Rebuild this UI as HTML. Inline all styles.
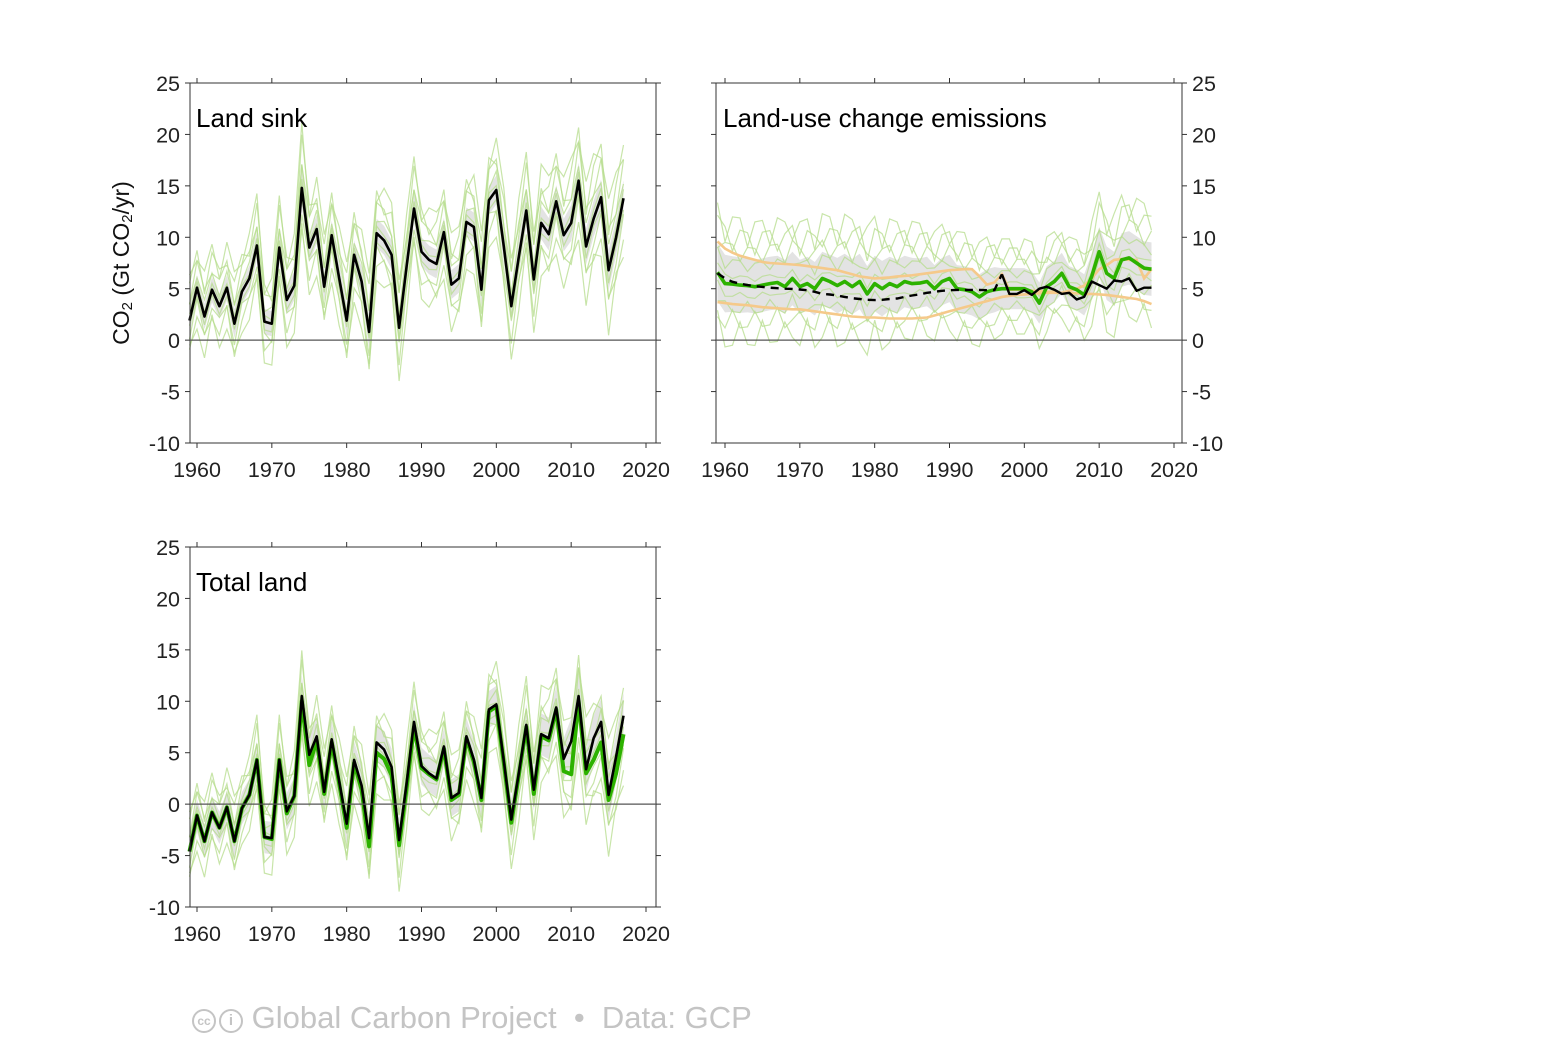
<!DOCTYPE html>
<html><head><meta charset="utf-8">
<style>
html,body{margin:0;padding:0;background:#fff;}
body{width:1563px;height:1042px;overflow:hidden;font-family:"Liberation Sans",Arial,sans-serif;}
svg text{font-family:"Liberation Sans",Arial,sans-serif;}
</style></head>
<body>
<svg id="chart" width="1563" height="1042"></svg>
<script>
const years = [];
for (let y = 1959; y <= 2017; y++) years.push(y);
const sinkValues = [1.9,5.1,2.3,4.9,3.3,5.1,1.6,4.7,6.0,9.2,1.8,1.6,9.0,3.9,5.3,14.8,9.0,10.8,5.2,10.2,6.0,1.9,8.3,5.7,0.8,10.4,9.7,8.3,1.2,7.1,12.8,8.6,7.8,7.4,10.5,5.4,6.0,11.5,11.0,4.9,13.6,14.6,9.1,3.3,8.1,12.6,5.9,11.4,10.3,13.5,10.2,11.4,15.5,9.1,11.8,13.9,6.8,10.0,13.8];
const sinkSpread = [3.5,3.5,3.5,3.5,3.5,3.5,4,3.5,3.5,4,3.5,3.5,4,4,4,5,4,4,4,4,4,4.5,4,4,4.5,4,4,4,4.5,4,4,4,4,4,4,4,4,4,4,4.5,4,4,4.5,4.5,4.5,4.5,4.5,4.5,4.5,4.5,4.5,5,5,5,5,5,5.5,5,5];
const totalValues = [-4.6,-1.1,-3.6,-0.8,-2.3,-0.3,-3.6,-0.4,0.9,4.3,-3.2,-3.3,4.3,-0.7,0.8,10.5,4.8,6.6,1.2,6.3,2.2,-1.9,4.3,1.8,-3.3,6.0,5.3,3.6,-3.5,1.9,8.0,3.7,3.0,2.5,5.6,0.6,1.1,6.6,4.3,0.6,9.2,9.7,4.2,-1.5,3.0,7.7,1.4,6.8,6.4,9.4,4.4,6.1,10.5,3.4,6.4,8.0,0.9,4.6,8.6];
const totalGreen = [-4.6,-1.1,-3.6,-0.8,-2.3,-0.3,-3.6,-0.4,0.9,4.3,-3.2,-3.4,4.3,-0.9,0.8,10.0,3.8,6.2,1.0,6.0,2.0,-2.3,4.0,1.4,-4.1,5.0,4.4,2.8,-4.0,1.5,7.5,3.5,2.9,2.4,5.4,0.4,0.9,6.4,4.1,0.4,9.0,9.5,4.0,-1.8,2.8,7.5,1.0,6.6,6.2,9.2,3.2,2.9,10.0,3.0,4.3,6.0,0.4,3.0,6.8];
const totalSpread = [3.5,3.5,3.5,3.5,3.5,3.5,4,3.5,3.5,4,3.5,3.5,4,4,4,4.5,4,4,4,4,4,4.5,4,4,4.5,4,4,4,4.5,4,4,4,4,4,4,4,4,4,4,4.5,4,4,4.5,4.5,4.5,4.5,4.5,4.5,4.5,4.5,4.5,5,5,5,5,5,5.5,5,5];
const lucYearsDashed = [];
for (let y = 1959; y <= 1997; y++) lucYearsDashed.push(y);
const lucDashed = [6.5,6.0,5.67,5.5,5.35,5.25,5.18,5.1,5.05,5.0,4.98,4.92,4.86,4.7,4.5,4.44,4.34,4.2,4.08,4.0,3.92,3.89,3.92,4.0,4.05,4.2,4.34,4.45,4.6,4.7,4.8,4.86,4.88,4.88,4.88,4.88,4.86,4.86,6.4];
const lucYearsSolid = [];
for (let y = 1997; y <= 2017; y++) lucYearsSolid.push(y);
const lucSolid = [6.4,4.5,4.5,4.86,4.4,5.0,5.2,4.9,4.5,4.6,3.95,4.2,5.7,5.35,5.0,5.8,5.7,6.0,4.8,5.1,5.1];
const lucGreen = [6.6,5.5,5.45,5.35,5.3,5.2,5.35,5.5,5.6,5.2,6.0,5.2,5.5,5.0,6.0,5.7,5.3,5.7,5.2,5.7,4.5,5.5,5.0,5.5,5.2,5.7,5.5,5.55,5.7,5.0,5.7,6.0,5.0,4.9,4.7,4.2,4.7,4.9,5.0,5.0,5.0,5.0,4.7,3.6,5.2,5.7,6.5,5.2,4.9,4.4,6.2,8.6,6.5,6.0,7.8,8.0,7.5,7.0,6.9];
const lucUpper = [9.6,8.9,8.5,8.2,8.0,7.8,7.6,7.5,7.45,7.4,7.35,7.3,7.2,7.1,7.0,6.9,6.8,6.6,6.4,6.2,6.1,6.0,6.05,6.1,6.2,6.25,6.3,6.4,6.5,6.6,6.7,6.8,6.85,6.9,6.9,6.2,5.4,5.6,6.4,4.9,4.9,4.9,4.8,4.8,4.7,4.7,4.6,4.8,5.0,5.3,6.0,6.9,7.3,7.8,7.9,7.8,7.8,6.0,6.9];
const lucLower = [3.7,3.6,3.5,3.45,3.4,3.3,3.2,3.15,3.1,3.05,3.0,3.0,2.9,2.8,2.7,2.6,2.5,2.4,2.3,2.25,2.2,2.2,2.15,2.1,2.1,2.1,2.1,2.15,2.2,2.4,2.6,2.8,3.0,3.2,3.4,3.6,3.8,4.0,4.2,4.3,4.4,4.45,4.5,4.55,4.6,4.6,4.6,4.6,4.55,4.5,4.5,4.45,4.4,4.3,4.2,4.1,4.0,3.8,3.5];
const lucSpread = [2.8,2.8,2.7,2.7,2.6,2.6,2.6,2.6,2.6,2.6,2.6,2.6,2.6,2.6,2.6,2.6,2.7,2.7,2.7,2.7,2.7,2.7,2.7,2.6,2.6,2.5,2.5,2.4,2.4,2.3,2.3,2.3,2.3,2.3,2.3,2.2,2.2,2.2,2.0,2.0,2.0,2.0,2.0,2.0,2.0,2.0,2.0,2.0,2.0,2.0,2.2,2.4,2.6,2.6,2.6,2.6,2.6,2.6,2.6];
const yTicks = [-10,-5,0,5,10,15,20,25];
const xTicks = [1960,1970,1980,1990,2000,2010,2020];

const NS = 'http://www.w3.org/2000/svg';
const svg = document.getElementById('chart');
function el(tag, attrs, parent) {
  const e = document.createElementNS(NS, tag);
  for (const k in attrs) e.setAttribute(k, attrs[k]);
  (parent || svg).appendChild(e);
  return e;
}
function makeAxes(left, top, right, bottom, x1960, x2020) {
  const xs = y => x1960 + (y - 1960) * (x2020 - x1960) / 60;
  const ys = v => bottom - (v + 10) * (bottom - top) / 35;
  return {xs, ys, left, top, right, bottom};
}
function path(ax, xv, yv) {
  return xv.map((x, i) => (i ? 'L' : 'M') + ax.xs(x).toFixed(1) + ' ' + ax.ys(yv[i]).toFixed(1)).join(' ');
}
function band(ax, xv, lo, hi) {
  let d = xv.map((x, i) => (i ? 'L' : 'M') + ax.xs(x).toFixed(1) + ' ' + ax.ys(hi[i]).toFixed(1)).join(' ');
  for (let i = xv.length - 1; i >= 0; i--) d += ' L' + ax.xs(xv[i]).toFixed(1) + ' ' + ax.ys(lo[i]).toFixed(1);
  return d + ' Z';
}
function frame(ax, g, rightLabels) {
  const f = el('rect', {x: ax.left, y: ax.top, width: ax.right - ax.left, height: ax.bottom - ax.top, fill: 'none', stroke: '#333', 'stroke-width': 1}, g);
  
  
  const zl = el('line', {x1: ax.left, x2: ax.right, y1: ax.ys(0), y2: ax.ys(0), stroke: '#555', 'stroke-width': 1.2}, g);
  
  
  yTicks.forEach(v => {
    const y = ax.ys(v);
    el('line', {x1: ax.left - 5, x2: ax.left, y1: y, y2: y, stroke: '#333'}, g);
    el('line', {x1: ax.right, x2: ax.right + 5, y1: y, y2: y, stroke: '#333'}, g);
    const t = el('text', {x: rightLabels ? ax.right + 10 : ax.left - 10, y: y + 8, 'font-size': 21.5, fill: '#222', 'text-anchor': rightLabels ? 'start' : 'end'}, g);
    t.textContent = v;
    
    
  });
  xTicks.forEach(v => {
    const x = ax.xs(v);
    el('line', {x1: x, x2: x, y1: ax.top - 5, y2: ax.top, stroke: '#333'}, g);
    el('line', {x1: x, x2: x, y1: ax.bottom, y2: ax.bottom + 5, stroke: '#333'}, g);
    const t = el('text', {x: x, y: ax.bottom + 34, 'font-size': 21.5, fill: '#222', 'text-anchor': 'middle'}, g);
    t.textContent = v;
    
    
  });
}
function modelLines(ax, g, center, spread, name) {
  const fracs = [-1, -0.7, -0.45, -0.2, 0.15, 0.4, 0.65, 0.9, 1.1];
  fracs.forEach((f, k) => {
    const vals = center.map((c, i) => c + spread[i] * f * (((i + k) % 3) === 0 ? 0.6 : 1));
    const p = el('path', {d: path(ax, years, vals), fill: 'none', stroke: '#b5dc8c', 'stroke-width': 1.2, opacity: 0.75}, g);
    
    
  });
}

// Panel 1: Land sink
const ax1 = makeAxes(190, 83, 656, 443, 197, 646);
const g1 = el('g', {});  
let b = el('path', {d: band(ax1, years, sinkValues.map((v, i) => v - sinkSpread[i] * 0.35), sinkValues.map((v, i) => v + sinkSpread[i] * 0.35)), fill: '#e3e3e3'}, g1);
 
modelLines(ax1, g1, sinkValues, sinkSpread.map(s => s * 1.15), 'model-line');
let l = el('path', {d: path(ax1, years, sinkValues), fill: 'none', stroke: '#000', 'stroke-width': 2.6, 'stroke-linejoin': 'round'}, g1);
 
frame(ax1, g1, false);
let t = el('text', {x: 196, y: 127, 'font-size': 26, fill: '#000'}, g1); t.textContent = 'Land sink';
 

// Panel 2: Land-use change
const ax2 = makeAxes(716, 83, 1182, 443, 725, 1174);
const g2 = el('g', {});  
b = el('path', {d: band(ax2, years, lucGreen.map((v, i) => v - lucSpread[i]), lucGreen.map((v, i) => v + lucSpread[i])), fill: '#e3e3e3'}, g2);
 
modelLines(ax2, g2, lucGreen, lucSpread.map(s => s * 2.2), 'model-line');
l = el('path', {d: path(ax2, years, lucUpper), fill: 'none', stroke: '#f5c98a', 'stroke-width': 2.6}, g2);
 
l = el('path', {d: path(ax2, years, lucLower), fill: 'none', stroke: '#f5c98a', 'stroke-width': 2.6}, g2);
 
l = el('path', {d: path(ax2, years, lucGreen), fill: 'none', stroke: '#2db200', 'stroke-width': 3.6, 'stroke-linejoin': 'round'}, g2);
 
l = el('path', {d: path(ax2, lucYearsDashed, lucDashed), fill: 'none', stroke: '#000', 'stroke-width': 2.4, 'stroke-dasharray': '8 6'}, g2);
 
l = el('path', {d: path(ax2, lucYearsSolid, lucSolid), fill: 'none', stroke: '#000', 'stroke-width': 2.4, 'stroke-linejoin': 'round'}, g2);
 
frame(ax2, g2, true);
t = el('text', {x: 723, y: 127, 'font-size': 26, fill: '#000'}, g2); t.textContent = 'Land-use change emissions';
 

// Panel 3: Total land
const ax3 = makeAxes(190, 547, 656, 907, 197, 646);
const g3 = el('g', {});  
b = el('path', {d: band(ax3, years, totalValues.map((v, i) => v - totalSpread[i] * 0.45), totalValues.map((v, i) => v + totalSpread[i] * 0.45)), fill: '#e3e3e3'}, g3);
 
modelLines(ax3, g3, totalGreen, totalSpread, 'model-line');
l = el('path', {d: path(ax3, years, totalGreen), fill: 'none', stroke: '#2db200', 'stroke-width': 4, 'stroke-linejoin': 'round'}, g3);
 
l = el('path', {d: path(ax3, years, totalValues), fill: 'none', stroke: '#000', 'stroke-width': 2.6, 'stroke-linejoin': 'round'}, g3);
 
frame(ax3, g3, false);
t = el('text', {x: 196, y: 591, 'font-size': 26, fill: '#000'}, g3); t.textContent = 'Total land';
 
</script>
<div style="position:absolute;left:122px;top:263px;transform:translate(-50%,-50%) rotate(-90deg);font-size:23px;color:#111;white-space:nowrap;">CO<sub style="font-size:15px;vertical-align:-3px">2</sub> (Gt CO<sub style="font-size:15px;vertical-align:-3px">2</sub>/yr)</div>
<div style="position:absolute;left:192px;top:1000px;font-size:31px;color:#c4c4c4;white-space:nowrap;">
<span style="display:inline-block;width:24px;height:24px;border:2.5px solid #c4c4c4;border-radius:50%;font-size:12px;line-height:20px;text-align:center;vertical-align:3px;box-sizing:border-box;font-weight:bold;">cc</span><span style="display:inline-block;width:24px;height:24px;border:2.5px solid #c4c4c4;border-radius:50%;font-size:15px;line-height:19px;text-align:center;vertical-align:3px;box-sizing:border-box;margin-left:3px;font-weight:bold;">i</span>
Global Carbon Project &nbsp;•&nbsp; Data: GCP</div>
</body></html>
